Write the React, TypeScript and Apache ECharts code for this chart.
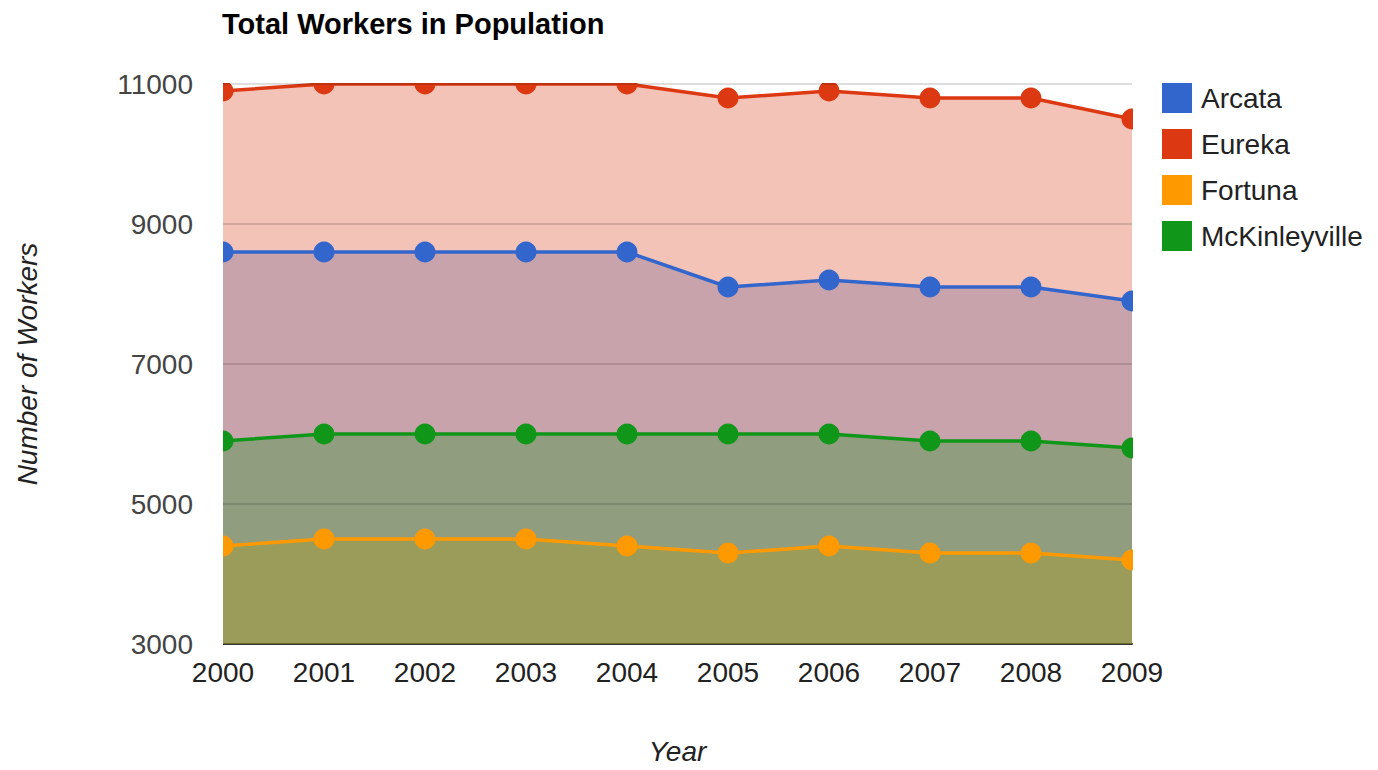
import React, { useEffect, useRef } from "react";
import * as echarts from "echarts";

const years = ["2000", "2001", "2002", "2003", "2004", "2005", "2006", "2007", "2008", "2009"];
const arcata = [8600, 8600, 8600, 8600, 8600, 8100, 8200, 8100, 8100, 7900];
const eureka = [10900, 11000, 11000, 11000, 11000, 10800, 10900, 10800, 10800, 10500];
const fortuna = [4400, 4500, 4500, 4500, 4400, 4300, 4400, 4300, 4300, 4200];
const mckinleyville = [5900, 6000, 6000, 6000, 6000, 6000, 6000, 5900, 5900, 5800];
const yTicks = [3000, 5000, 7000, 9000, 11000];
const gridValues = [5000, 7000, 9000, 11000];

const seriesDefs = [
  { name: "Arcata", data: arcata, color: "#3366cc" },
  { name: "Eureka", data: eureka, color: "#dc3912" },
  { name: "Fortuna", data: fortuna, color: "#ff9900" },
  { name: "McKinleyville", data: mckinleyville, color: "#109618" },
];

const GL = 223, GR = 246, GT = 84, GB = 125, W = 1378, H = 770;

export default function App() {
  const ref = useRef<HTMLDivElement>(null);
  useEffect(() => {
    document.body.style.margin = "0";
    const chart = echarts.init(ref.current!, null, { renderer: "svg" });
    const font = "Arial, 'Liberation Sans', sans-serif";
    const areaSeries = seriesDefs.map((s, i) => ({
      name: s.name,
      type: "line",
      data: s.data,
      z: 1,
      showSymbol: false,
      symbol: "none",
      lineStyle: { width: 0, color: s.color },
      itemStyle: { color: s.color },
      areaStyle: { color: s.color, opacity: 0.3, origin: "start" },
      markLine:
        i === 3
          ? {
              silent: true,
              symbol: "none",
              label: { show: false },
              lineStyle: { color: "rgba(0,0,0,0.13)", width: 2, type: "solid" },
              data: gridValues.map((v) => ({ yAxis: v })),
            }
          : undefined,
    }));
    const lineSeries = seriesDefs.map((s) => ({
      name: s.name,
      type: "line",
      data: s.data,
      z: 3,
      symbol: "circle",
      symbolSize: 21,
      lineStyle: { width: 3.5, color: s.color },
      itemStyle: { color: s.color },
    }));
    const plotRight = W - GR;
    const plotBottom = H - GB;
    chart.setOption({
      animation: false,
      backgroundColor: "#ffffff",
      title: {
        text: "Total Workers in Population",
        left: 222,
        top: 9,
        padding: 0,
        textStyle: { fontFamily: font, fontSize: 29, fontWeight: "bold", color: "#000" },
      },
      legend: {
        orient: "vertical",
        left: 1162,
        top: 83,
        padding: 0,
        itemWidth: 30,
        itemHeight: 30,
        itemGap: 16,
        icon: "rect",
        data: seriesDefs.map((s) => s.name),
        textStyle: { fontFamily: font, fontSize: 28, color: "#222", padding: [0, 0, 0, 4] },
      },
      grid: { left: GL, right: GR, top: GT, bottom: GB },
      graphic: [
        { type: "rect", z: 100, silent: true, shape: { x: GL - 20, y: GT - 25, width: 20, height: plotBottom - GT + 30 }, style: { fill: "#fff" } },
        { type: "rect", z: 100, silent: true, shape: { x: GL - 20, y: GT - 25, width: plotRight - GL + 40, height: 24 }, style: { fill: "#fff" } },
        { type: "rect", z: 100, silent: true, shape: { x: plotRight + 1, y: GT - 25, width: 20, height: plotBottom - GT + 24 }, style: { fill: "#fff" } },
      ],
      xAxis: {
        type: "category",
        data: years,
        boundaryGap: false,
        name: "Year",
        nameLocation: "middle",
        nameGap: 93,
        nameTextStyle: { fontFamily: font, fontSize: 28, fontStyle: "italic", color: "#222" },
        axisLine: { lineStyle: { color: "#333", width: 2 } },
        axisTick: { show: false },
        axisLabel: { fontFamily: font, fontSize: 28, color: "#222", margin: 14 },
        splitLine: { show: false },
      },
      yAxis: {
        type: "value",
        min: 3000,
        max: 11000,
        interval: 1000,
        name: "Number of Workers",
        nameLocation: "middle",
        nameGap: 182,
        nameRotate: 90,
        nameTextStyle: { fontFamily: font, fontSize: 28, fontStyle: "italic", color: "#222" },
        axisLine: { show: false },
        axisTick: { show: false },
        splitLine: { show: false },
        axisLabel: {
          fontFamily: font,
          fontSize: 28,
          color: "#444",
          margin: 30,
          formatter: (v: number) => (yTicks.includes(v) ? String(v) : ""),
        },
      },
      series: [...areaSeries, ...lineSeries],
    });
    return () => chart.dispose();
  }, []);
  return <div ref={ref} style={{ width: W, height: H }} />;
}
